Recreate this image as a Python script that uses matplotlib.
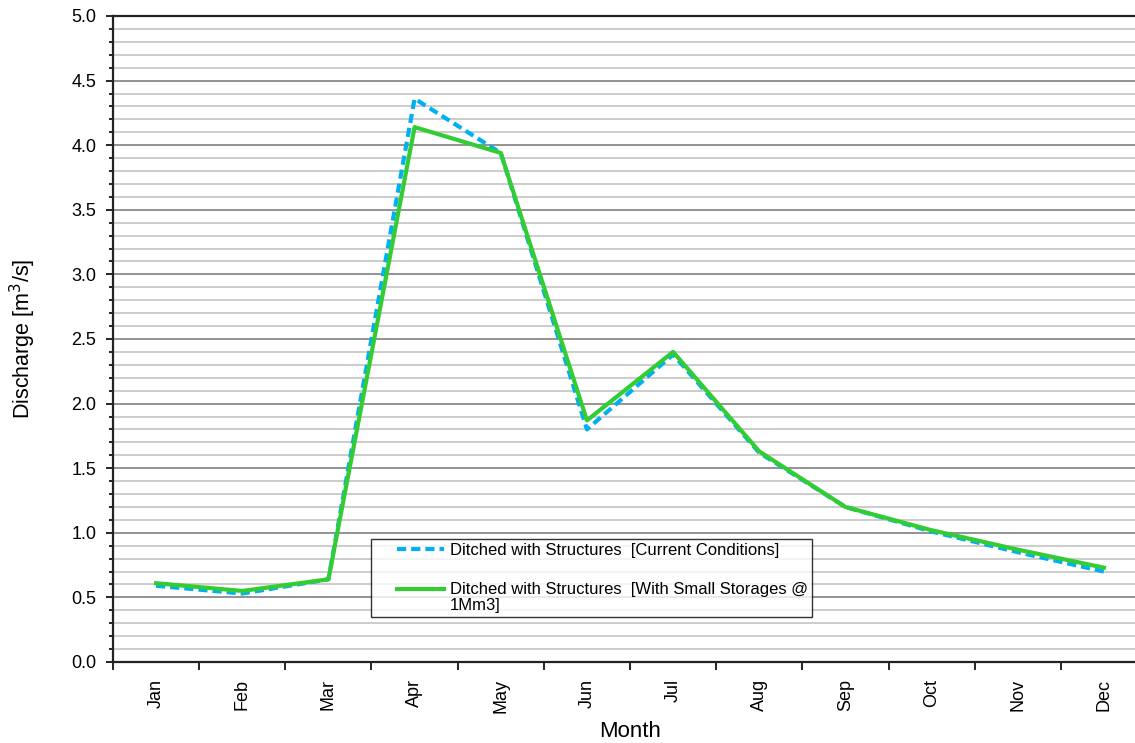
import matplotlib
matplotlib.use("Agg")
import matplotlib.pyplot as plt
import numpy as np
from matplotlib.ticker import MultipleLocator, FixedLocator, NullFormatter, FormatStrFormatter
from matplotlib.legend_handler import HandlerLine2D

plt.rcParams['font.family'] = ['Liberation Sans', 'DejaVu Sans']

months = ["Jan", "Feb", "Mar", "Apr", "May", "Jun", "Jul", "Aug", "Sep", "Oct", "Nov", "Dec"]
current = [0.59, 0.53, 0.64, 4.36, 3.94, 1.80, 2.38, 1.62, 1.20, 1.01, 0.85, 0.70]
storages = [0.61, 0.55, 0.64, 4.14, 3.94, 1.87, 2.40, 1.63, 1.20, 1.02, 0.87, 0.73]
label_current = "Ditched with Structures  [Current Conditions]"
label_storages = "Ditched with Structures  [With Small Storages @\n1Mm3]"


class ShiftedLine(HandlerLine2D):
    def __init__(self, dy=0.0, **kw):
        super().__init__(**kw)
        self.dy = dy

    def create_artists(self, legend, orig_handle, xdescent, ydescent, width, height, fontsize, trans):
        arts = super().create_artists(legend, orig_handle, xdescent, ydescent, width, height, fontsize, trans)
        for a in arts:
            y = np.asarray(a.get_ydata(), dtype=float)
            a.set_ydata(y + self.dy * fontsize)
        return arts


fig = plt.figure(figsize=(11.35, 7.43), dpi=100)
ax = fig.add_axes([113/1135, 1-662/743, 1034/1135, (662-16)/743])

x = list(range(len(months)))
l1, = ax.plot(x, current, color="#00B0F0", lw=3, ls=(0, (2.2, 1.2)), label=label_current, zorder=3)
l2, = ax.plot(x, storages, color="#33CC33", lw=3, label=label_storages, zorder=4)

ax.set_xlim(-0.5, len(months) - 0.5)
ax.set_ylim(0, 5)
ax.yaxis.set_major_locator(MultipleLocator(0.5))
ax.yaxis.set_minor_locator(MultipleLocator(0.1))
ax.yaxis.set_major_formatter(FormatStrFormatter("%.1f"))
ax.grid(True, which="major", axis="y", color="#808080", lw=1.2)
ax.grid(True, which="minor", axis="y", color="#c4c4c4", lw=1.2)
ax.set_axisbelow(True)

ax.set_xticks(x)
ax.set_xticklabels(months, rotation=90, fontsize=13)
ax.tick_params(axis="x", which="major", length=0, pad=12)
ax.xaxis.set_minor_locator(FixedLocator([i - 0.5 for i in range(len(months) + 1)]))
ax.xaxis.set_minor_formatter(NullFormatter())
ax.tick_params(axis="x", which="minor", length=6, width=1.2, direction="out")
ax.tick_params(axis="y", which="major", length=5, width=1.2, labelsize=13, direction="out", pad=7)
ax.tick_params(axis="y", which="minor", length=3, width=1.2, direction="out")

for s in ["left", "bottom", "top"]:
    ax.spines[s].set_linewidth(1.6)
    ax.spines[s].set_color("#222222")
ax.spines["right"].set_visible(False)

ax.set_ylabel("Discharge [m$^3$/s]", fontsize=15.5, labelpad=24)
ax.set_xlabel("Month", fontsize=16, labelpad=6)

fs = 12
leg = ax.legend(handles=[l1, l2], loc="upper left", bbox_to_anchor=(371/1135, 1-539/743),
                bbox_transform=fig.transFigure, borderaxespad=0,
                fontsize=fs, frameon=True, fancybox=False, handlelength=4.1, labelspacing=1.45,
                borderpad=0.25, handletextpad=0.4,
                handler_map={l1: ShiftedLine(xpad=1.3), l2: ShiftedLine(dy=0.55, xpad=1.3)})
leg.get_frame().set_edgecolor("black")
leg.get_frame().set_linewidth(1.0)
for t in leg.get_texts():
    t.set_linespacing(1.05)

fig.savefig("out.png", dpi=100)
